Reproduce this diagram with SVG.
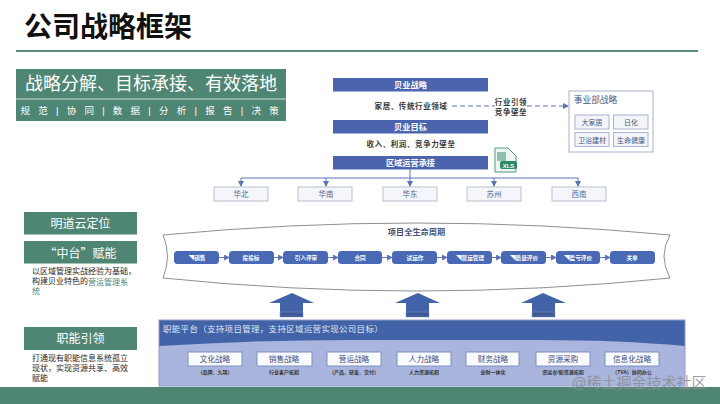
<svg xmlns="http://www.w3.org/2000/svg" width="720" height="404" viewBox="0 0 720 404">
<defs>
<style>
text{font-family:"Liberation Sans","Noto Sans CJK SC",sans-serif;text-anchor:middle;dominant-baseline:central}
.green{fill:#4f8573}
.bar{fill:#4a65ad}
.bar-t{fill:#fff;font-size:8.2px;font-weight:bold}
.small{fill:#3a3a3a;font-size:7.5px;font-weight:bold;letter-spacing:.6px}
.region{fill:#f4f6fb;stroke:#b9bfc9;stroke-width:1}
.region-t{fill:#56688f;font-size:7.5px}
.sub{fill:#f3f5fb;stroke:#aab4d3;stroke-width:1}
.sub-t{fill:#44557f;font-size:7px}
.pill{fill:#4a69b5}
.pill-t{fill:#fff;font-size:5.6px;font-weight:bold}
.fn{fill:#fafbfe;stroke:#7f90c2;stroke-width:1}
.fn-t{fill:#3a4c7e;font-size:7.6px}
.fn-s{fill:#333;font-size:5px;font-weight:bold}
.side{fill:#1f1f1f;font-size:8px;text-anchor:start}
.side-h{fill:#fff;font-size:12px}
.link{fill:none;stroke:#5f72b6;stroke-width:1}
.dash{fill:none;stroke:#5f72b6;stroke-width:1;stroke-dasharray:5 3}
.up{fill:#4263a8}
.up-b{fill:#3f5a98;stroke:#7a8fc2;stroke-width:.5}
</style>
<marker id="a" markerWidth="6" markerHeight="6" refX="5" refY="3" orient="auto" markerUnits="userSpaceOnUse"><path d="M0 0L6 3L0 6z" fill="#5f72b6"/></marker>
</defs>
<rect width="720" height="404" fill="#fff"/>

<g id="header">
<text x="108" y="27" style="font-size:28px;font-weight:bold;fill:#111">公司战略框架</text>
<rect x="16" y="50" width="682" height="2" fill="#5f8d7d"/>
</g>
<g id="banner">
<rect class="green" x="16" y="69" width="270" height="52"/>
<rect x="16" y="98.500" width="270" height="1" fill="#cfe3dc"/>
<text x="151" y="83.500" style="fill:#fff;font-size:18px">战略分解、目标承接、有效落地</text>
<text x="151" y="110" style="fill:#fff;font-size:9.500px;letter-spacing:2.800px" xml:space="preserve">规 范 | 协 同 | 数 据 | 分 析 | 报 告 | 决 策</text>
</g>

<g id="strategy"><rect class="bar" x="333" y="78" width="155" height="13.500"/><text class="bar-t" x="410.500" y="85">贝业战略</text></g>
<g id="strategy-text"><text class="small" x="411" y="106">家居、传统行业领域</text></g>
<g id="link-label"><text class="small" x="511" y="102">行业引领</text><text class="small" x="511" y="112">竞争壁垒</text></g>
<g id="goal"><rect class="bar" x="333" y="120" width="155" height="13.500"/><text class="bar-t" x="410.500" y="127">贝业目标</text></g>
<g id="goal-text"><text class="small" x="411" y="144.500">收入、利润、竞争力壁垒</text></g>
<g id="regional"><rect class="bar" x="333" y="156" width="155" height="13.500"/><text class="bar-t" x="410.500" y="163">区域运营承接</text></g>
<g id="xls">
<path d="M495 148H508L516 156V172H495z" fill="#eef6f2" stroke="#4f9a7e"/>
<rect x="497" y="152" width="9" height="9" fill="#8fc0ab"/>
<rect x="500" y="161" width="17" height="8" rx="2" fill="#2f8a67"/>
<text x="508.500" y="165.500" style="fill:#fff;font-size:6px;font-weight:bold">XLS</text>
</g>

<g id="division">
<rect x="569" y="91" width="84" height="61" fill="#fff" stroke="#a9b0c9"/>
<text x="595.500" y="99.500" style="fill:#46557c;font-size:8.700px">事业部战略</text>
</g>
<g id="d1"><rect class="sub" x="575" y="115" width="34" height="14"/><text class="sub-t" x="592" y="122.500">大家居</text></g>
<g id="d2"><rect class="sub" x="613.500" y="115" width="34.500" height="14"/><text class="sub-t" x="631" y="122.500">日化</text></g>
<g id="d3"><rect class="sub" x="575" y="132.500" width="34" height="14"/><text class="sub-t" x="592" y="140">卫浴建材</text></g>
<g id="d4"><rect class="sub" x="613.500" y="132.500" width="34.500" height="14"/><text class="sub-t" x="631" y="140">生命健康</text></g>

<g id="r1"><rect class="region" x="214" y="187" width="54" height="14"/><text class="region-t" x="241" y="194.500">华北</text></g>
<g id="r2"><rect class="region" x="298" y="187" width="54" height="14"/><text class="region-t" x="326" y="194.500">华南</text></g>
<g id="r3"><rect class="region" x="383" y="187" width="54" height="14"/><text class="region-t" x="410" y="194.500">华东</text></g>
<g id="r4"><rect class="region" x="467" y="187" width="54" height="14"/><text class="region-t" x="494" y="194.500">苏州</text></g>
<g id="r5"><rect class="region" x="552" y="187" width="54" height="14"/><text class="region-t" x="579" y="194.500">西南</text></g>

<g id="lifecycle">
<path d="M163 235Q416 211 670 235Q658 256 670 278Q416 304 163 278Q172 256 163 235z" fill="#fff" stroke="#8a8f98" stroke-width="1"/>
<text x="416.500" y="232" style="fill:#4a5372;font-size:8.200px;font-weight:bold">项目全生命周期</text>
</g>
<g id="p1"><rect class="pill" x="174" y="251" width="45" height="13" rx="3.500"/><text class="pill-t" x="197" y="258">◥销售</text></g>
<g id="p2"><rect class="pill" x="229" y="251" width="45" height="13" rx="3.500"/><text class="pill-t" x="251" y="258">投投标</text></g>
<g id="p3"><rect class="pill" x="283" y="251" width="45" height="13" rx="3.500"/><text class="pill-t" x="306" y="258">引入评审</text></g>
<g id="p4"><rect class="pill" x="338" y="251" width="44" height="13" rx="3.500"/><text class="pill-t" x="360" y="258">合同</text></g>
<g id="p5"><rect class="pill" x="392" y="251" width="45" height="13" rx="3.500"/><text class="pill-t" x="415" y="258">试运作</text></g>
<g id="p6"><rect class="pill" x="447" y="251" width="45" height="13" rx="3.500"/><text class="pill-t" x="470" y="258">◥营运管理</text></g>
<g id="p7"><rect class="pill" x="501" y="251" width="45" height="13" rx="3.500"/><text class="pill-t" x="524" y="258">◥质量评价</text></g>
<g id="p8"><rect class="pill" x="556" y="251" width="44" height="13" rx="3.500"/><text class="pill-t" x="578" y="258">◥盈亏评价</text></g>
<g id="p9"><rect class="pill" x="610" y="251" width="45" height="13" rx="3.500"/><text class="pill-t" x="632" y="258">关单</text></g>

<g id="platform">
<rect x="159" y="320" width="526" height="66" fill="#a9b5dc"/>
<path d="M159 320H685V346Q620 340 540 340H350Q255 340 159 346z" fill="#4263a8"/>
<rect x="159" y="320" width="526" height="66" fill="none" stroke="#8f9cc8"/>
<text x="163" y="329" style="fill:#dfe6f5;font-size:8.500px;text-anchor:start;letter-spacing:.3px">职能平台（支持项目管理，支持区域运营实现公司目标）</text>
</g>
<g id="f1"><rect class="fn" x="188" y="352" width="54" height="14"/><text class="fn-t" x="215" y="359.500">文化战略</text><text class="fn-s" x="215" y="372">（品牌、九项）</text></g>
<g id="f2"><rect class="fn" x="257" y="352" width="55" height="14"/><text class="fn-t" x="284" y="359.500">销售战略</text><text class="fn-s" x="284" y="372">行业客户拓和</text></g>
<g id="f3"><rect class="fn" x="327" y="352" width="54" height="14"/><text class="fn-t" x="354" y="359.500">营运战略</text><text class="fn-s" x="354" y="372">（产品、研发、交付）</text></g>
<g id="f4"><rect class="fn" x="397" y="352" width="54" height="14"/><text class="fn-t" x="424" y="359.500">人力战略</text><text class="fn-s" x="424" y="372">人力资源拓和</text></g>
<g id="f5"><rect class="fn" x="466" y="352" width="53" height="14"/><text class="fn-t" x="493" y="359.500">财务战略</text><text class="fn-s" x="493" y="372">业财一体化</text></g>
<g id="f6"><rect class="fn" x="536" y="352" width="54" height="14"/><text class="fn-t" x="563" y="359.500">资源采购</text><text class="fn-s" x="563" y="372">资运仓/配资源拓和</text></g>
<g id="f7"><rect class="fn" x="605" y="352" width="54" height="14"/><text class="fn-t" x="632" y="359.500">信息化战略</text><text class="fn-s" x="632" y="372">（TVA）协同办公</text></g>

<g id="connectors">
<path class="dash" d="M452 106H495"/>
<path class="dash" d="M527 106H568" marker-end="url(#a)"/>
<path class="link" d="M410 169V186" marker-end="url(#a)"/>
<path class="link" d="M241 178H578"/>
<path class="link" d="M241 178V186" marker-end="url(#a)"/>
<path class="link" d="M326 178V186" marker-end="url(#a)"/>
<path class="link" d="M494 178V186" marker-end="url(#a)"/>
<path class="link" d="M578 178V186" marker-end="url(#a)"/>
<path class="link" d="M219 257.500H229" marker-end="url(#a)"/>
<path class="link" d="M274 257.500H283" marker-end="url(#a)"/>
<path class="link" d="M328 257.500H338" marker-end="url(#a)"/>
<path class="link" d="M382 257.500H392" marker-end="url(#a)"/>
<path class="link" d="M437 257.500H447" marker-end="url(#a)"/>
<path class="link" d="M492 257.500H501" marker-end="url(#a)"/>
<path class="link" d="M546 257.500H556" marker-end="url(#a)"/>
<path class="link" d="M600 257.500H610" marker-end="url(#a)"/>
<path class="up" d="M292 293L314 303H303V317H280V303H269z"/>
<rect class="up-b" x="280" y="312" width="23" height="5"/>
<path class="up" d="M418 293L440 303H429V317H406V303H395z"/>
<rect class="up-b" x="406" y="312" width="23" height="5"/>
<path class="up" d="M543 293L566 303H555V317H532V303H521z"/>
<rect class="up-b" x="532" y="312" width="23" height="5"/>
</g>

<g id="s1"><rect class="green" x="24" y="212" width="113" height="22.500"/><text class="side-h" x="80.500" y="223.500">明道云定位</text></g>
<g id="s2"><rect class="green" x="24" y="241" width="113" height="22.500"/><text class="side-h" x="80.500" y="252" style="font-family:'Noto Sans CJK SC',sans-serif">“中台”赋能</text>
<text class="side" x="32" y="271.500">以区域管理实战经验为基础，</text>
<text class="side" x="32" y="281.500">构建贝业特色的<tspan fill="#4f8573">营运管理系</tspan></text>
<text class="side" x="32" y="291.500" style="fill:#4f8573">统</text>
</g>
<g id="s3"><rect class="green" x="24" y="327" width="113" height="23"/><text class="side-h" x="80.500" y="338.500">职能引领</text>
<text class="side" x="32" y="358">打通现有职能信息系统孤立</text>
<text class="side" x="32" y="368">现状，实现资源共享、高效</text>
<text class="side" x="32" y="378">赋能</text>
</g>

<g id="footer">
<rect class="green" x="0" y="387" width="720" height="17"/>
<text x="639" y="382" style="fill:#8a8f94;font-size:15px;fill-opacity:.85">@稀土掘金技术社区</text>
</g>
</svg>
